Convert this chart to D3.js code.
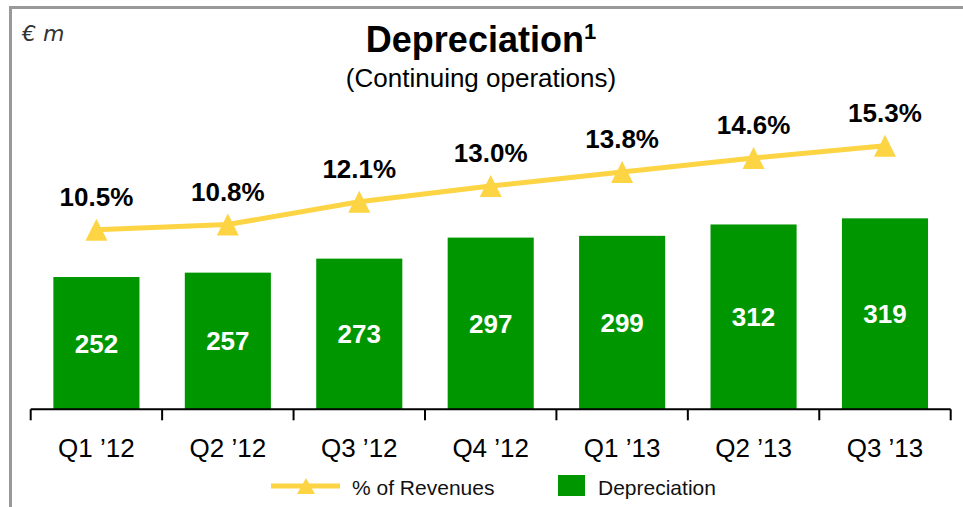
<!DOCTYPE html>
<html>
<head>
<meta charset="utf-8">
<script src="https://cdn.jsdelivr.net/npm/d3@7"></script>
<style>
  html, body { margin: 0; padding: 0; background: #fff; }
  svg { display: block; }
</style>
</head>
<body>
<svg id="chart" width="963" height="507"></svg>
<script>
const categories = ["Q1 \u201912", "Q2 \u201912", "Q3 \u201912", "Q4 \u201912", "Q1 \u201913", "Q2 \u201913", "Q3 \u201913"];
const depreciation = [252, 257, 273, 297, 299, 312, 319];
const pctRevenues = [10.5, 10.8, 12.1, 13.0, 13.8, 14.6, 15.3];
const pctLabels = ["10.5%", "10.8%", "12.1%", "13.0%", "13.8%", "14.6%", "15.3%"];

const GREEN = "#009600";
const YELLOW = "#FCD444";
const FONT = "'Liberation Sans', Arial, Helvetica, sans-serif";

const svg = d3.select("#chart");

// frame
svg.append("rect")
  .attr("x", 10.5).attr("y", 7.5)
  .attr("width", 1000).attr("height", 600)
  .attr("fill", "none").attr("stroke", "#999").attr("stroke-width", 3);

// unit label
svg.append("text")
  .attr("x", 22).attr("y", 40.5)
  .attr("font-family", "'DejaVu Sans', sans-serif")
  .attr("font-style", "italic")
  .attr("font-size", 22)
  .attr("fill", "#333")
  .text("\u20AC m");

// title
const title = svg.append("text")
  .attr("x", 481).attr("y", 52)
  .attr("text-anchor", "middle")
  .attr("font-family", FONT)
  .attr("font-weight", "bold")
  .attr("font-size", 36)
  .attr("fill", "#000");
title.append("tspan").text("Depreciation");
title.append("tspan").attr("font-size", 22).attr("dy", -13).text("1");

svg.append("text")
  .attr("x", 481).attr("y", 87)
  .attr("text-anchor", "middle")
  .attr("font-family", FONT)
  .attr("font-size", 26)
  .attr("fill", "#000")
  .text("(Continuing operations)");

// scales
const left = 30.7, right = 950.7, baseY = 409.3;
const x = d3.scaleBand().domain(categories).range([left, right])
  .paddingInner(0.345).paddingOuter(0.1725);
const y = d3.scaleLinear().domain([101, 400]).range([baseY, baseY - 299 * 0.876]);
const y2 = d3.scaleLinear().domain([0, 20]).range([413.5, 63.5]);

// bars
svg.selectAll("rect.bar").data(depreciation).join("rect")
  .attr("class", "bar")
  .attr("x", (d, i) => x(categories[i]))
  .attr("width", x.bandwidth())
  .attr("y", d => y(d))
  .attr("height", d => baseY - y(d))
  .attr("fill", GREEN);

// bar labels
svg.selectAll("text.val").data(depreciation).join("text")
  .attr("class", "val")
  .attr("x", (d, i) => x(categories[i]) + x.bandwidth() / 2)
  .attr("y", d => (y(d) + baseY) / 2 + 9.5)
  .attr("text-anchor", "middle")
  .attr("font-family", FONT)
  .attr("font-weight", "bold")
  .attr("font-size", 26)
  .attr("fill", "#fff")
  .text(d => d);

// axis
svg.append("line")
  .attr("x1", left).attr("x2", right)
  .attr("y1", baseY).attr("y2", baseY)
  .attr("stroke", "#000").attr("stroke-width", 2);
const boundaries = categories.map(c => x(c) + x.bandwidth() / 2 - x.step() / 2)
  .concat([x(categories[categories.length - 1]) + x.bandwidth() / 2 + x.step() / 2]);
svg.selectAll("line.tick").data(boundaries).join("line")
  .attr("class", "tick")
  .attr("x1", d => d).attr("x2", d => d)
  .attr("y1", baseY).attr("y2", baseY + 11)
  .attr("stroke", "#000").attr("stroke-width", 2);
svg.selectAll("text.cat").data(categories).join("text")
  .attr("class", "cat")
  .attr("x", d => x(d) + x.bandwidth() / 2)
  .attr("y", 456.5)
  .attr("text-anchor", "middle")
  .attr("font-family", FONT)
  .attr("font-size", 26)
  .attr("fill", "#000")
  .text(d => d);

// line
const cx = i => x(categories[i]) + x.bandwidth() / 2;
const line = d3.line().x((d, i) => cx(i)).y(d => y2(d));
svg.append("path")
  .datum(pctRevenues)
  .attr("d", line)
  .attr("fill", "none")
  .attr("stroke", YELLOW)
  .attr("stroke-width", 5);

const tri = "M0,-11L11,11L-11,11Z";
svg.selectAll("path.tri").data(pctRevenues).join("path")
  .attr("class", "tri")
  .attr("d", tri)
  .attr("transform", (d, i) => `translate(${cx(i)},${y2(d)})`)
  .attr("fill", YELLOW);

svg.selectAll("text.pct").data(pctRevenues).join("text")
  .attr("class", "pct")
  .attr("x", (d, i) => cx(i))
  .attr("y", d => y2(d) - 24)
  .attr("text-anchor", "middle")
  .attr("font-family", FONT)
  .attr("font-weight", "bold")
  .attr("font-size", 26)
  .attr("fill", "#000")
  .text((d, i) => pctLabels[i]);

// legend
const lg = svg.append("g");
lg.append("line")
  .attr("x1", 271).attr("x2", 340)
  .attr("y1", 486).attr("y2", 486)
  .attr("stroke", YELLOW).attr("stroke-width", 5);
lg.append("path")
  .attr("d", "M0,-8L9,8L-9,8Z")
  .attr("transform", "translate(306,486)")
  .attr("fill", YELLOW);
lg.append("text")
  .attr("x", 352).attr("y", 495)
  .attr("font-family", FONT)
  .attr("font-size", 21)
  .attr("fill", "#111")
  .text("% of Revenues");
lg.append("rect")
  .attr("x", 558).attr("y", 475)
  .attr("width", 27).attr("height", 21)
  .attr("fill", GREEN);
lg.append("text")
  .attr("x", 598).attr("y", 495)
  .attr("font-family", FONT)
  .attr("font-size", 21)
  .attr("fill", "#111")
  .text("Depreciation");
</script>
</body>
</html>
